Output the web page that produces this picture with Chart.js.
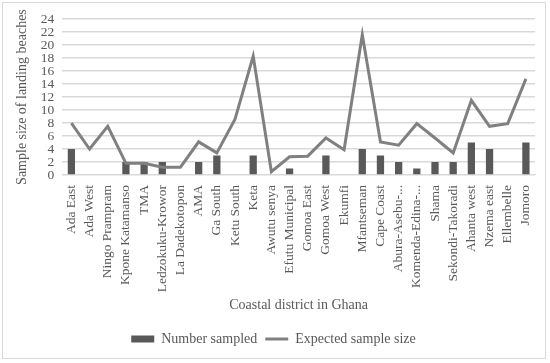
<!DOCTYPE html>
<html>
<head>
<meta charset="utf-8">
<script src="https://cdn.jsdelivr.net/npm/chart.js@4/dist/chart.umd.min.js"></script>
<style>
  html, body { margin: 0; padding: 0; background: #fff; }
  #wrap {
    position: absolute; left: 2px; top: 2px;
    width: 544px; height: 357px;
    border: 1px solid #d9d9d9; box-sizing: border-box;
  }
</style>
</head>
<body>
<div id="wrap"><canvas id="chart"></canvas></div>
<script>
// Coastal districts (x categories)
const districts = [
  'Ada East', 'Ada West', 'Ningo Prampram', 'Kpone Katamanso', 'TMA',
  'Ledzokuku-Krowor', 'La Dadekotopon', 'AMA', 'Ga South', 'Ketu South',
  'Keta', 'Awutu senya', 'Efutu Municipal', 'Gomoa East', 'Gomoa West',
  'Ekumfi', 'Mfantseman', 'Cape Coast', 'Abura-Asebu-...', 'Komenda-Edina-...',
  'Shama', 'Sekondi-Takoradi', 'Ahanta west', 'Nzema east', 'Ellembelle', 'Jomoro'
];

// Bars: landing beaches actually sampled
const numberSampled = [
  4, 0, 0, 2, 2, 2, 0, 2, 3, 0,
  3, 0, 1, 0, 3, 0, 4, 3, 2, 1,
  2, 2, 5, 4, 0, 5
];

// Line: expected sample size
const expectedSize = [
  8.0, 4.0, 7.5, 1.8, 1.8, 1.2, 1.2, 5.1, 3.4, 8.6,
  18.3, 0.5, 2.8, 2.9, 5.7, 3.9, 21.6, 5.1, 4.6, 7.9,
  5.7, 3.4, 11.5, 7.5, 7.9, 14.8
];

const yTicks = [0, 2, 4, 6, 8, 10, 12, 14, 16, 18, 20, 22, 24];

const txt = '#595959';
const font = { family: "'Liberation Serif', serif", size: 14 };
const tickFont = { family: "'Liberation Serif', serif", size: 13.5 };

new Chart(document.getElementById('chart'), {
  type: 'bar',
  data: {
    labels: districts,
    datasets: [
      {
        label: 'Number sampled',
        data: numberSampled,
        backgroundColor: '#595959',
        borderWidth: 0,
        barPercentage: 0.8,
        categoryPercentage: 0.5,
        pointStyle: 'rect',
        order: 1
      },
      {
        type: 'line',
        label: 'Expected sample size',
        data: expectedSize,
        borderColor: '#808080',
        backgroundColor: '#808080',
        borderWidth: 3,
        pointRadius: 0,
        pointStyle: 'line',
        tension: 0,
        order: 0
      }
    ]
  },
  options: {
    responsive: true,
    maintainAspectRatio: false,
    animation: false,
    layout: { padding: { left: 9, right: 10, top: 3, bottom: 2 } },
    plugins: {
      tooltip: { enabled: false },
      legend: {
        position: 'bottom',
        labels: {
          color: txt,
          font: font,
          usePointStyle: true,
          pointStyleWidth: 23,
          boxHeight: 7,
          padding: 8,
          sort: (a, b) => a.datasetIndex - b.datasetIndex
        }
      }
    },
    scales: {
      x: {
        grid: { display: false },
        border: { color: '#d9d9d9' },
        ticks: {
          color: txt, font: tickFont,
          minRotation: 90, maxRotation: 90,
          autoSkip: false, padding: 2
        },
        title: {
          display: true, text: 'Coastal district in Ghana',
          color: txt, font: font, padding: { top: 3, bottom: 10 }
        }
      },
      y: {
        min: 0, max: 24,
        afterBuildTicks: (axis) => { axis.ticks = yTicks.map(v => ({ value: v })); },
        grid: { color: '#d9d9d9', lineWidth: 1.5, drawTicks: false },
        border: { display: false },
        ticks: { color: txt, font: tickFont, padding: 8, autoSkip: false },
        title: {
          display: true, text: 'Sample size of landing beaches',
          color: txt, font: font, padding: 2
        }
      }
    }
  }
});
</script>
</body>
</html>
